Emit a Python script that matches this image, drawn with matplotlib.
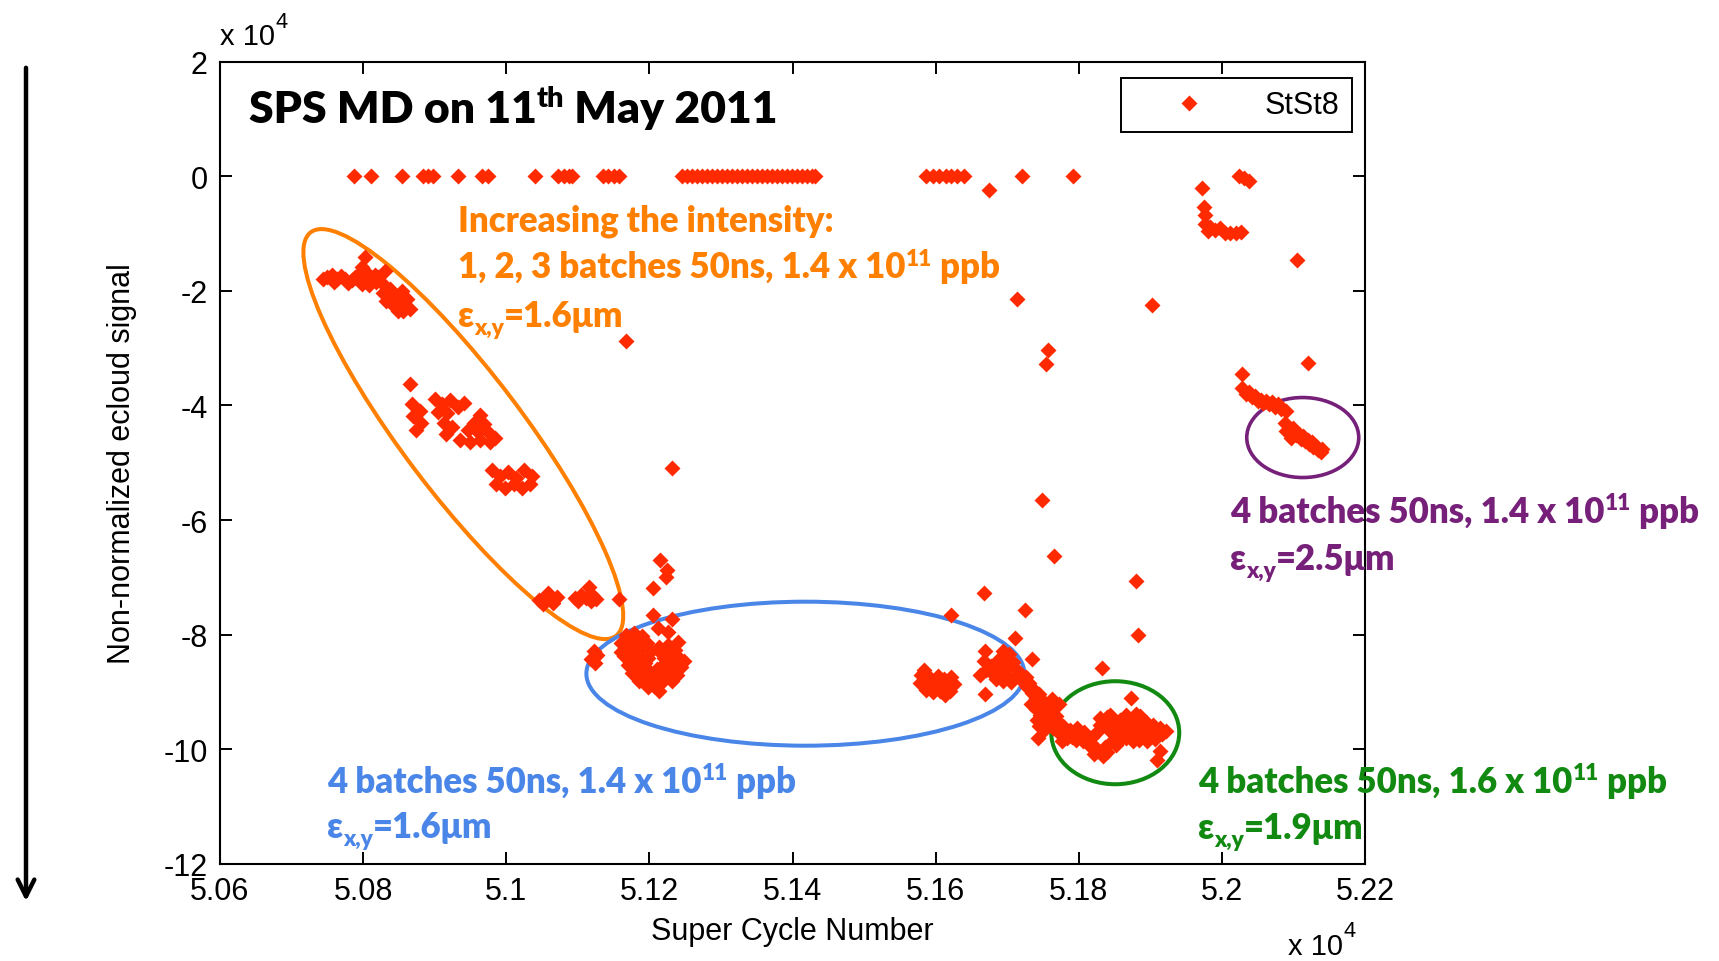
import matplotlib
matplotlib.use("Agg")
import matplotlib.pyplot as plt
import matplotlib.transforms as mtransforms
from matplotlib.patches import Ellipse, FancyArrowPatch
from matplotlib.path import Path

# ---------------------------------------------------------------------------
# Data: super cycle number (x) and non-normalized e-cloud signal in 1e4 (y)
# ---------------------------------------------------------------------------
idle_cycle = [50787, 50811, 50854, 50884, 50891, 50898, 50933, 50966, 50974,
              51040, 51072, 51080, 51088, 51092, 51135, 51142, 51150, 51157,
              51245, 51252, 51259, 51266, 51273, 51280, 51287, 51294, 51301,
              51308, 51315, 51322, 51329, 51336, 51343, 51350, 51357, 51364,
              51371, 51378, 51385, 51392, 51399, 51406, 51413, 51420, 51427,
              51432, 51587, 51596, 51605, 51614, 51622, 51630, 51639, 51720,
              51792]
idle_signal = [0.0, 0.0, 0.0, 0.0, 0.0, 0.0, 0.0, 0.0, 0.0,
               0.0, 0.0, 0.0, 0.0, 0.0, 0.0, 0.0, 0.0, 0.0,
               0.0, 0.0, 0.0, 0.0, 0.0, 0.0, 0.0, 0.0, 0.0,
               0.0, 0.0, 0.0, 0.0, 0.0, 0.0, 0.0, 0.0, 0.0,
               0.0, 0.0, 0.0, 0.0, 0.0, 0.0, 0.0, 0.0, 0.0,
               0.0, 0.0, 0.0, 0.0, 0.0, 0.0, 0.0, 0.0, 0.0,
               0.0]

# 1, 2, 3 batches, 50 ns, 1.4e11 ppb
ramp_cycle = [50744, 50750, 50759, 50764, 50769, 50779, 50784, 50789, 50793,
              50798, 50798, 50803, 50805, 50808, 50812, 50816, 50821, 50829,
              50831, 50828, 50832, 50838, 50840, 50846, 50849, 50852, 50854,
              50861, 50866, 50756, 50774, 50800, 50818, 50836, 50844, 50858,
              50856,
              50866,
              50868, 50879, 50870, 50881, 50874,
              50900, 50905, 50910, 50913, 50916, 50917, 50921, 50924, 50933,
              50941,
              50935, 50947, 50949, 50955, 50961, 50963, 50963, 50969, 50975,
              50977, 50984,
              50980, 50986, 50991, 50998, 51002, 51011, 51014, 51022, 51025,
              51033, 51036,
              51046, 51052, 51055, 51058, 51063, 51066, 51071,
              51096, 51100, 51104, 51112, 51116, 51118, 51120, 51126, 51158]
ramp_signal = [-1.80, -1.76, -1.84, -1.79, -1.74, -1.86, -1.81, -1.76, -1.72,
               -1.88, -1.58, -1.41, -1.69, -1.90, -1.83, -1.72, -1.76, -1.90,
               -1.65, -2.04, -2.17, -1.97, -2.21, -2.10, -2.35, -2.24, -2.00,
               -2.14, -2.31, -1.72, -1.80, -1.78, -1.84, -2.06, -2.28, -2.24,
               -2.36,
               -3.63,
               -3.98, -4.09, -4.19, -4.31, -4.43,
               -3.88, -4.12, -3.98, -4.30, -4.49, -4.14, -3.91, -4.37, -4.02,
               -3.95,
               -4.61, -4.43, -4.64, -4.30, -4.47, -4.16, -4.61, -4.33, -4.47,
               -4.64, -4.57,
               -5.13, -5.37, -5.23, -5.44, -5.17, -5.37, -5.27, -5.44, -5.13,
               -5.37, -5.23,
               -7.40, -7.46, -7.32, -7.27, -7.38, -7.45, -7.35,
               -7.36, -7.42, -7.30, -7.36, -7.16, -7.42, -7.30, -7.38, -7.37]

# 4 batches, 50 ns, 1.4e11 ppb, 1.6 um
nominal_cycle = [51122, 51127, 51119, 51124,
                 51168, 51178, 51190, 51172, 51184, 51196, 51166, 51178, 51190,
                 51202, 51214, 51226, 51236, 51218, 51230, 51242, 51222, 51234,
                 51244, 51226, 51238, 51232, 51165, 51176, 51170, 51182, 51194,
                 51188, 51200, 51210, 51196, 51208, 51218, 51206, 51214,
                 51160, 51172, 51186, 51198, 51176, 51186, 51198, 51220, 51248,
                 51160, 51240, 51220,
                 51205, 51232, 51212, 51226, 51215, 51225, 51223, 51205,
                 51580, 51578, 51586, 51595, 51604, 51612, 51621, 51626, 51616,
                 51606, 51613, 51597, 51588, 51592, 51600, 51620, 51584,
                 51662, 51670, 51678, 51686, 51694, 51702, 51694, 51680, 51692,
                 51702, 51712, 51700, 51710, 51720, 51668, 51669, 51669,
                 51684, 51694, 51706, 51676, 51688, 51698, 51708,
                 51722, 51728, 51734, 51740, 51733, 51740, 51746, 51750, 51744,
                 51752, 51760, 51770, 51758, 51762, 51772,
                 51716, 51726, 51730, 51738, 51744, 51748, 51738, 51748, 51756,
                 51742, 51754]
nominal_signal = [-8.28, -8.36, -8.42, -8.50,
                  -8.00, -7.97, -8.02, -8.12, -8.10, -8.14, -8.24, -8.26, -8.22,
                  -8.28, -8.22, -8.18, -8.26, -8.34, -8.36, -8.40, -8.50, -8.52,
                  -8.56, -8.66, -8.70, -8.80, -8.38, -8.40, -8.52, -8.55, -8.50,
                  -8.66, -8.64, -8.60, -8.78, -8.76, -8.82, -8.90, -8.98,
                  -8.30, -8.34, -8.36, -8.40, -8.66, -8.80, -8.92, -8.70, -8.46,
                  -8.15, -8.12, -8.40,
                  -7.65, -7.72, -7.88, -7.96, -6.70, -6.87, -6.99, -7.18,
                  -8.70, -8.85, -8.96, -8.88, -8.72, -8.78, -8.74, -8.86, -8.93,
                  -8.99, -9.06, -9.00, -8.78, -8.76, -8.84, -8.98, -8.62,
                  -8.70, -8.62, -8.55, -8.48, -8.40, -8.33, -8.28, -8.68, -8.62,
                  -8.55, -8.60, -8.72, -8.76, -8.70, -8.45, -8.29, -9.04,
                  -8.78, -8.80, -8.82, -8.60, -8.42, -8.36, -8.48,
                  -8.82, -8.92, -9.02, -9.10, -9.20, -9.30, -9.40, -9.52, -9.60,
                  -9.66, -9.18, -9.22, -9.30, -9.12, -9.20,
                  -8.66, -8.74, -8.84, -8.96, -9.04, -9.14, -9.24, -9.28, -9.42,
                  -9.48, -9.56]

# 4 batches, 50 ns, 1.6e11 ppb, 1.9 um
bright_cycle = [51770, 51778, 51788, 51798, 51808, 51772, 51784, 51796, 51806,
                51818, 51826, 51816, 51826, 51834, 51830, 51830, 51840, 51848,
                51858, 51866, 51876, 51886, 51894, 51904, 51914, 51922, 51842,
                51854, 51864, 51872, 51882, 51892, 51902, 51848, 51860, 51914,
                51909,
                51776, 51790, 51800, 51812, 51820, 51836, 51840, 51822, 51838,
                51850, 51860, 51870, 51880, 51890, 51898, 51908, 51916, 51884,
                51896, 51906, 51866, 51876, 51852, 51844, 51880, 51764, 51768]
bright_signal = [-9.50, -9.60, -9.66, -9.62, -9.70, -9.72, -9.80, -9.84, -9.86,
                 -9.78, -9.70, -9.95, -10.02, -10.12, -9.58, -9.45, -9.44, -9.54,
                 -9.48, -9.40, -9.50, -9.42, -9.52, -9.58, -9.62, -9.68, -9.66,
                 -9.70, -9.62, -9.70, -9.74, -9.68, -9.76, -9.84, -9.80, -10.03,
                 -10.18,
                 -9.86, -9.78, -9.76, -9.88, -9.92, -9.96, -10.05, -10.08, -9.56,
                 -9.62, -9.56, -9.60, -9.62, -9.60, -9.64, -9.70, -9.74, -9.84,
                 -9.86, -9.82, -9.80, -9.86, -9.92, -9.40, -9.38, -9.62, -9.42]

# 4 batches, 50 ns, 1.4e11 ppb, 2.5 um (and the approach to it)
wide_cycle = [51972, 52024, 52031, 52038, 51975, 51977,
              51976, 51984, 51980, 51990, 51998, 52004, 52012, 52020, 52027,
              52028, 52034, 52042, 52050, 52058, 52066, 52074, 52082, 52090,
              52038, 52046, 52054, 52062, 52070, 52078,
              52088, 52090, 52098, 52104, 52110, 52116, 52122, 52128, 52134,
              52138, 52096, 52100, 52108, 52114, 52120, 52126, 52132, 52140]
wide_signal = [-0.20, 0.00, -0.04, -0.08, -0.54, -0.67,
               -0.84, -0.88, -0.96, -0.94, -0.90, -1.00, -1.00, -1.00, -0.98,
               -3.70, -3.80, -3.86, -3.92, -3.96, -3.98, -4.02, -4.06, -4.10,
               -3.76, -3.84, -3.90, -3.92, -3.94, -3.98,
               -4.30, -4.44, -4.46, -4.52, -4.58, -4.62, -4.68, -4.72, -4.78,
               -4.82, -4.56, -4.40, -4.50, -4.54, -4.60, -4.64, -4.70, -4.76]

# isolated readings between the settings
stray_cycle = [51168, 51231, 51674, 51714, 51757, 51754, 51748, 51765, 51903,
               52105, 52121, 52028, 51622, 51667, 51725, 51711, 51734, 51880,
               51883, 51833, 51873, 51743]
stray_signal = [-2.87, -5.10, -0.25, -2.14, -3.04, -3.28, -5.65, -6.63, -2.24,
                -1.47, -3.26, -3.46, -7.65, -7.27, -7.57, -8.05, -8.42, -7.07,
                -8.00, -8.58, -9.10, -9.80]

xticks = [50600, 50800, 51000, 51200, 51400, 51600, 51800, 52000, 52200]
xtick_labels = ["5.06", "5.08", "5.1", "5.12", "5.14", "5.16", "5.18", "5.2", "5.22"]
yticks = [2, 0, -2, -4, -6, -8, -10, -12]
ytick_labels = ["2", "0", "-2", "-4", "-6", "-8", "-10", "-12"]

title_parts = [("SPS MD on 11", "n"), ("th", "sup"), (" May 2011", "n")]
orange_lines = [
    [("Increasing the intensity:", "n")],
    [("1, 2, 3 batches 50ns, 1.4 x 10", "n"), ("11", "sup"), (" ppb", "n")],
    [("\u03b5", "n"), ("x,y", "sub"), ("=1.6\u03bcm", "n")],
]
blue_lines = [
    [("4 batches 50ns, 1.4 x 10", "n"), ("11", "sup"), (" ppb", "n")],
    [("\u03b5", "n"), ("x,y", "sub"), ("=1.6\u03bcm", "n")],
]
purple_lines = [
    [("4 batches 50ns, 1.4 x 10", "n"), ("11", "sup"), (" ppb", "n")],
    [("\u03b5", "n"), ("x,y", "sub"), ("=2.5\u03bcm", "n")],
]
green_lines = [
    [("4 batches 50ns, 1.6 x 10", "n"), ("11", "sup"), (" ppb", "n")],
    [("\u03b5", "n"), ("x,y", "sub"), ("=1.9\u03bcm", "n")],
]

# ---------------------------------------------------------------------------
W, H, DPI = 1719, 962, 100
MARKER_RED = "#ff2a00"
ORANGE, BLUE, PURPLE, GREEN = "#ff7f00", "#4a86e8", "#76207a", "#128a12"
ANNOT_FONT = ["Lato", "DejaVu Sans"]
AXIS_FONT = ["Liberation Sans", "DejaVu Sans"]
ANNOT_WEIGHT = 800

plt.rcParams["font.family"] = AXIS_FONT

fig = plt.figure(figsize=(W / DPI, H / DPI), dpi=DPI)
fig.patch.set_facecolor("white")
ax = fig.add_axes([220 / W, 1 - 865 / H, (1365 - 220) / W, (865 - 62.5) / H])

# diamond marker
k = 0.5
diamond = Path([(0, 1), (k, k), (1, 0), (k, -k), (0, -1), (-k, -k), (-1, 0),
                (-k, k), (0, 1)], closed=True)

cycle = idle_cycle + ramp_cycle + nominal_cycle + bright_cycle + wide_cycle + stray_cycle
signal = idle_signal + ramp_signal + nominal_signal + bright_signal + wide_signal + stray_signal
ax.plot(cycle, signal, linestyle="none", marker=diamond, markersize=11.5,
        color=MARKER_RED, markeredgewidth=0, label="StSt8")

ax.set_xlim(50600, 52200)
ax.set_ylim(-12, 2)
ax.set_xticks(xticks)
ax.set_xticklabels(xtick_labels)
ax.set_yticks(yticks)
ax.set_yticklabels(ytick_labels)
ax.tick_params(direction="in", length=8.5, width=1.4, top=True, right=True,
               labelsize=22, pad=9, colors="black")
for sp in ax.spines.values():
    sp.set_linewidth(1.5)
    sp.set_color("black")

ax.set_xlabel("Super Cycle Number", fontsize=22)
ax.set_ylabel("Non-normalized ecloud signal", fontsize=22)
ax.xaxis.set_label_coords(0.5, -0.0835)
ax.yaxis.set_label_coords(-0.0860, 0.5)
ax.xaxis.label.set_va("center")
ax.yaxis.label.set_va("center")

leg = ax.legend(loc="upper right", bbox_to_anchor=(0.9886, 0.9794),
                borderaxespad=0, fontsize=22, numpoints=1, handlelength=3.6,
                handletextpad=0.7, borderpad=0.4, fancybox=False,
                framealpha=1, edgecolor="black")
leg.get_frame().set_linewidth(1.4)


def ellipse(cx, cy, w_px, h_px, angle, color, lw=2.9):
    tr = fig.dpi_scale_trans + mtransforms.ScaledTranslation(cx, cy, ax.transData)
    e = Ellipse((0, 0), w_px / DPI, h_px / DPI, angle=angle, transform=tr,
                fill=False, edgecolor=color, linewidth=lw, clip_on=False)
    ax.add_artist(e)


ellipse(50940, -4.50, 506, 120, -52.9, ORANGE)
ellipse(51418, -8.68, 438, 144, 0, BLUE)
ellipse(51851, -9.71, 128, 103, 0, GREEN)
ellipse(52113, -4.56, 112, 80, 0, PURPLE, lw=2.6)

renderer = fig.canvas.get_renderer()


def rich_text(x, base, parts, size, color, family, weight=ANNOT_WEIGHT,
              scale=0.65, rise=0.36, drop=0.22):
    """Write text pieces left to right from pixel x; base is the baseline
    measured from the top of the figure."""
    px_pt = DPI / 72.0
    for s, kind in parts:
        fs, dy = size, 0.0
        if kind == "sup":
            fs, dy = size * scale, size * rise * px_pt
        elif kind == "sub":
            fs, dy = size * scale, -size * drop * px_pt
        t = fig.text(x / W, (H - base + dy) / H, s, fontsize=fs, color=color,
                     family=family, weight=weight, ha="left", va="baseline")
        x += t.get_window_extent(renderer).width


rich_text(249, 123, title_parts, 32, "black", ANNOT_FONT)
for i, line in enumerate(orange_lines):
    rich_text(458, [232, 278, 327][i], line, 25, ORANGE, ANNOT_FONT)
for i, line in enumerate(blue_lines):
    rich_text(327, [793, 838][i], line, 25, BLUE, ANNOT_FONT)
for i, line in enumerate(purple_lines):
    rich_text(1230, [523, 570][i], line, 25, PURPLE, ANNOT_FONT)
for i, line in enumerate(green_lines):
    rich_text(1198, [793, 839][i], line, 25, GREEN, ANNOT_FONT)

# exponent notes of the two axes
rich_text(220, 45, [("x 10", "n"), ("4", "sup")], 21, "black", AXIS_FONT,
          weight="normal", scale=0.75, rise=0.6)
rich_text(1288, 955, [("x 10", "n"), ("4", "sup")], 21, "black", AXIS_FONT,
          weight="normal", scale=0.75, rise=0.6)

# downward arrow along the left edge
arrow = FancyArrowPatch((26 / W, 1 - 66 / H), (26 / W, 1 - 905 / H),
                        transform=fig.transFigure, arrowstyle="->",
                        mutation_scale=30, linewidth=3.2, color="black")
fig.add_artist(arrow)

fig.savefig("out.png", dpi=DPI, facecolor="white")
